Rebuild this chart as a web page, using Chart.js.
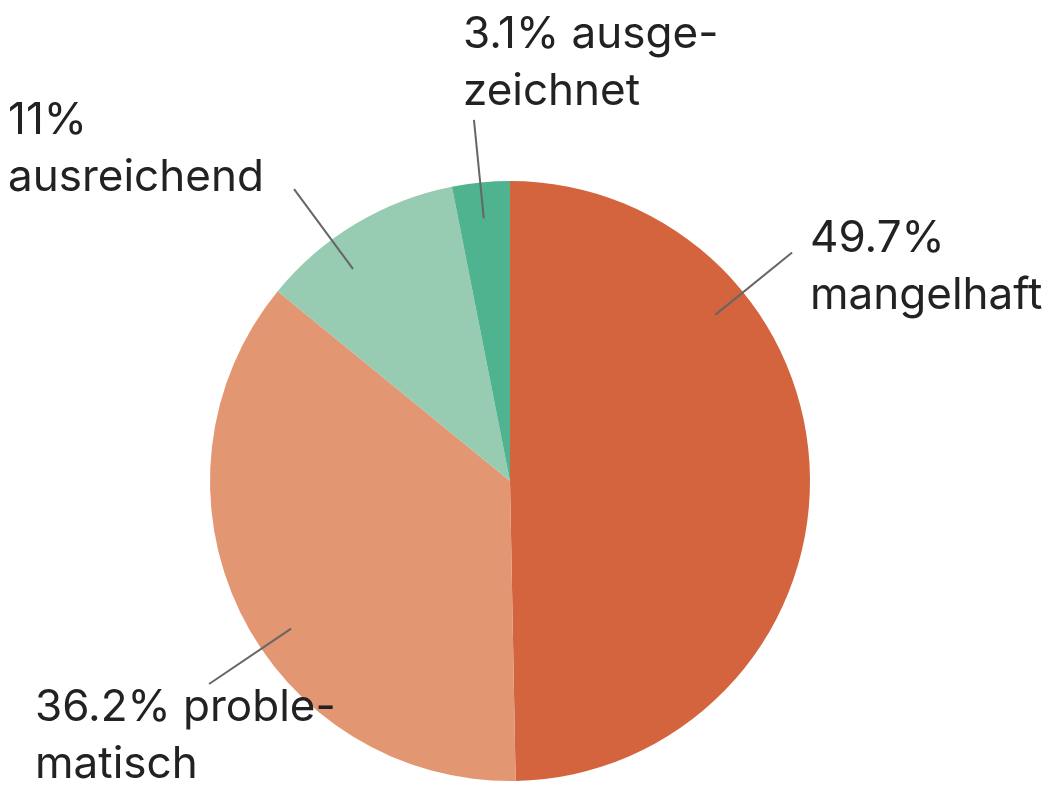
<!DOCTYPE html>
<html>
<head>
<meta charset="utf-8">
<script src="https://cdn.jsdelivr.net/npm/chart.js@4"></script>
<style>
  html, body { margin: 0; padding: 0; background: #fff; }
  #wrap { width: 1052px; height: 787px; }
</style>
</head>
<body>
<div id="wrap"><canvas id="pieChart" width="1052" height="787"></canvas></div>
<script>
// data
const categories = ["mangelhaft", "problematisch", "ausreichend", "ausgezeichnet"];
const shares = [49.7, 36.2, 11, 3.1];
const colors = ["#D4643D", "#E39672", "#97CBB2", "#4FB38F"];

// label text lines, in the same order as the categories
const labelLines = [
  ["49.7%", "mangelhaft"],
  ["36.2% proble-", "matisch"],
  ["11%", "ausreichend"],
  ["3.1% ausge-", "zeichnet"]
];

// leader line angle (deg clockwise from top) and text placement
const labelLayout = [
  { angle: 51, x: 810, y: 252 },
  { angle: 236, x: 35, y: 721 },
  { angle: -36.5, x: 8, y: 134 },
  { angle: -5.7, x: 463, y: 48 }
];

const labelPlugin = {
  id: "pieLabels",
  afterDatasetsDraw(chart) {
    const ctx = chart.ctx;
    const arc = chart.getDatasetMeta(0).data[0];
    const cx = arc.x, cy = arc.y, R = arc.outerRadius;
    ctx.save();
    labelLayout.forEach((l, i) => {
      const a = (l.angle - 90) * Math.PI / 180;
      ctx.strokeStyle = "#666";
      ctx.lineWidth = 2;
      ctx.beginPath();
      ctx.moveTo(cx + 0.88 * R * Math.cos(a), cy + 0.88 * R * Math.sin(a));
      ctx.lineTo(cx + 1.21 * R * Math.cos(a), cy + 1.21 * R * Math.sin(a));
      ctx.stroke();

      ctx.fillStyle = "#222";
      ctx.font = "44px Inter";
      ctx.textAlign = "left";
      ctx.textBaseline = "alphabetic";
      labelLines[i].forEach((t, j) => {
        ctx.fillText(t, l.x, l.y + j * 57);
      });
    });
    ctx.restore();
  }
};

new Chart(document.getElementById("pieChart"), {
  type: "pie",
  data: {
    labels: categories,
    datasets: [{
      data: shares,
      backgroundColor: colors,
      borderWidth: 0
    }]
  },
  options: {
    responsive: false,
    animation: false,
    layout: { padding: { left: 210, right: 242, top: 181, bottom: 6 } },
    plugins: {
      legend: { display: false },
      tooltip: { enabled: false }
    }
  },
  plugins: [labelPlugin]
});
</script>
</body>
</html>
